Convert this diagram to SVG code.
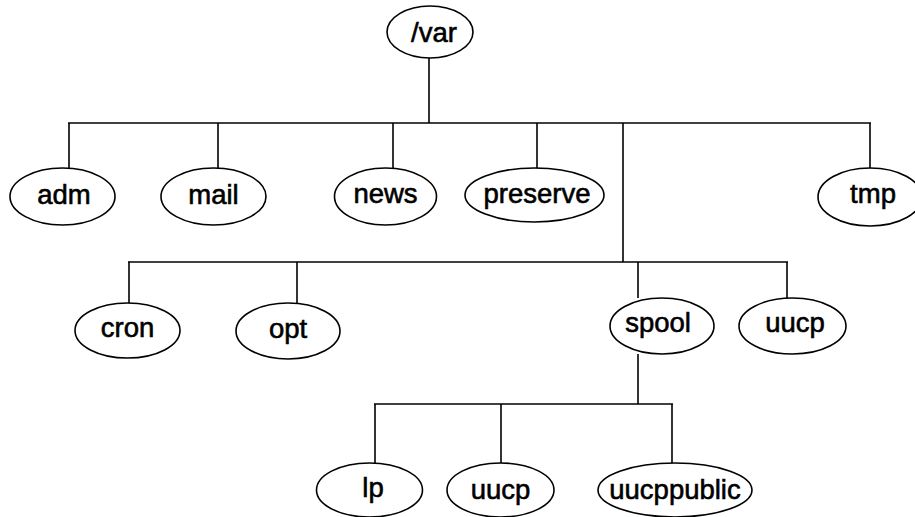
<svg xmlns="http://www.w3.org/2000/svg" width="915" height="517" viewBox="0 0 915 517">
<style>
.n ellipse{fill:#fff;stroke:#000;stroke-width:1.6}
.n text{font-family:"Liberation Sans",Arial,sans-serif;font-size:27.5px;fill:#000;stroke:#000;stroke-width:0.6;text-anchor:middle}
#connectors line{stroke:#000;stroke-width:1.6;fill:none}
</style>
<rect width="915" height="517" fill="#fff"/>
<g id="connectors">
<line x1="429" y1="58" x2="429" y2="123"/>
<line x1="68" y1="123" x2="871" y2="123"/>
<line x1="69" y1="123" x2="69" y2="168"/>
<line x1="218" y1="123" x2="218" y2="168"/>
<line x1="393" y1="123" x2="393" y2="168"/>
<line x1="537" y1="123" x2="537" y2="168"/>
<line x1="870" y1="123" x2="870" y2="168"/>
<line x1="623" y1="123" x2="623" y2="262"/>
<line x1="128" y1="262" x2="788" y2="262"/>
<line x1="129" y1="262" x2="129" y2="303"/>
<line x1="297" y1="262" x2="297" y2="303"/>
<line x1="638" y1="262" x2="638" y2="298"/>
<line x1="787" y1="262" x2="787" y2="298"/>
<line x1="638" y1="354" x2="638" y2="404"/>
<line x1="374" y1="404" x2="673" y2="404"/>
<line x1="375" y1="404" x2="375" y2="463"/>
<line x1="501" y1="404" x2="501" y2="463"/>
<line x1="672" y1="404" x2="672" y2="463"/>
</g>
<g id="var" class="n"><ellipse cx="430" cy="32" rx="43" ry="26"/><text x="434" y="42">/var</text></g>
<g id="adm" class="n"><ellipse cx="62.5" cy="196.5" rx="52.5" ry="28.5"/><text x="64" y="204">adm</text></g>
<g id="mail" class="n"><ellipse cx="213.5" cy="196.5" rx="52.5" ry="28.5"/><text x="213.5" y="204">mail</text></g>
<g id="news" class="n"><ellipse cx="385.5" cy="196.5" rx="51" ry="28.5"/><text x="385.5" y="203">news</text></g>
<g id="preserve" class="n"><ellipse cx="534.5" cy="195" rx="69.5" ry="27"/><text x="537" y="203">preserve</text></g>
<g id="tmp" class="n"><ellipse cx="870" cy="197" rx="52" ry="29"/><text x="873" y="203">tmp</text></g>
<g id="cron" class="n"><ellipse cx="127.5" cy="330.5" rx="52.5" ry="27.5"/><text x="127.5" y="337">cron</text></g>
<g id="opt" class="n"><ellipse cx="288" cy="331" rx="52" ry="28"/><text x="288" y="338">opt</text></g>
<g id="spool" class="n"><ellipse cx="662" cy="326" rx="52" ry="28"/><text x="658" y="332">spool</text></g>
<g id="uucp" class="n"><ellipse cx="792.5" cy="326" rx="53.5" ry="28"/><text x="795" y="332">uucp</text></g>
<g id="lp" class="n"><ellipse cx="369.5" cy="490" rx="53" ry="27"/><text x="373" y="497">lp</text></g>
<g id="uucp2" class="n"><ellipse cx="500.5" cy="490" rx="53.5" ry="27"/><text x="500.5" y="499">uucp</text></g>
<g id="uucppublic" class="n"><ellipse cx="675" cy="490" rx="77" ry="27"/><text x="675" y="499">uucppublic</text></g>
</svg>
